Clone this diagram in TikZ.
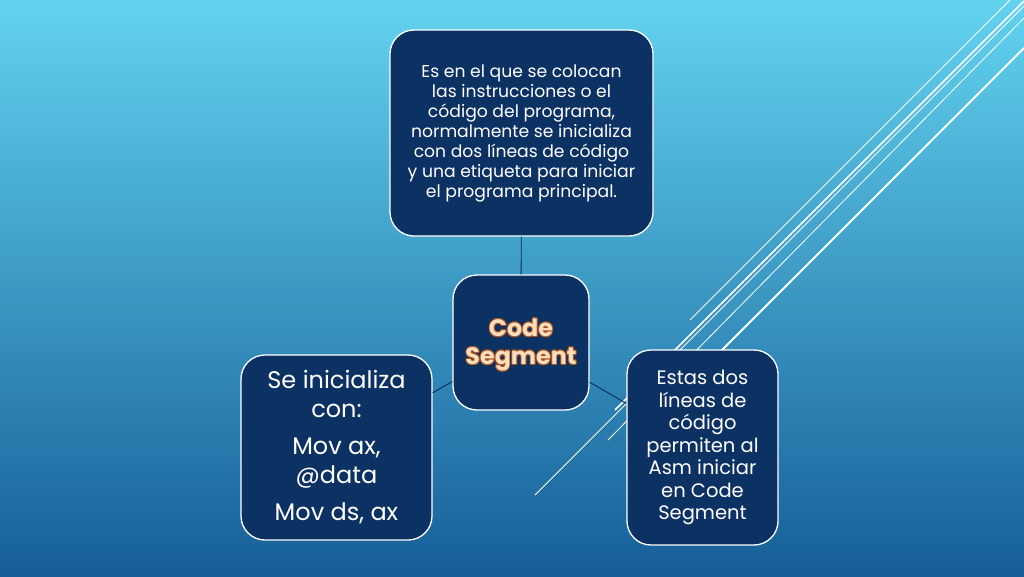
\documentclass[tikz,border=0pt]{standalone}
\usepackage{fontspec}
\setmainfont{Poppins}
\usepackage{xcolor}
\definecolor{skytop}{HTML}{62D3EF}
\definecolor{skymid}{HTML}{3498C8}
\definecolor{skybot}{HTML}{165E98}
\definecolor{boxnavy}{HTML}{0C3163}
\definecolor{linknavy}{HTML}{0B2A55}
\definecolor{peach}{HTML}{FCDDBE}
\definecolor{peachrim}{HTML}{A9541F}
\tikzset{
  segbox/.style={draw=white, line width=1.3pt, fill=boxnavy, rounded corners=24pt,
    text=white, align=center, inner sep=0pt},
  link/.style={draw=linknavy, line width=0.9pt},
  streak/.style={draw=white, line width=#1},
}
\begin{document}
\begin{tikzpicture}[x=1pt,y=-1pt]
      \useasboundingbox (0,0) rectangle (1024,576);
      \shade[top color=skytop, middle color=skymid, bottom color=skybot] (0,0) rectangle (1024,576);

      % diagonal streaks behind the boxes
      \draw[streak=0.8pt] (690,320) -- (1010,0);
      \draw[streak=1.5pt] (615,410) -- (1024,1);
      \draw[streak=0.8pt] (535,495) -- (1024,6);
      \draw[streak=0.8pt] (608,440) -- (1024,18);
      \draw[streak=1.8pt] (700,372) -- (1024,48);

      \node[segbox, minimum width=263pt, minimum height=206pt, font=\fontsize{17.2}{20}\selectfont] (top) at (521.5,133)
        {Es en el que se colocan\\las instrucciones o el\\código del programa,\\normalmente se inicializa\\con dos líneas de código\\y una etiqueta para iniciar\\el programa principal.};
      \node[segbox, minimum width=136pt, minimum height=135pt] (code) at (521,342.5) {};
      \coordinate (codemid) at (521,345);
      \foreach \dx/\dy in {-0.9/0,0.9/0,0/-0.9,0/0.9,-0.65/-0.65,0.65/0.65,-0.65/0.65,0.65/-0.65}
        \node[text=peachrim, align=center, font=\fontsize{23.8}{28}\selectfont\bfseries, xshift=\dx pt, yshift=\dy pt] at (codemid) {Code\\Segment};
      \node[text=peach, align=center, font=\fontsize{23.8}{28}\selectfont\bfseries] (codetext) at (codemid) {Code\\Segment};
      \node[segbox, minimum width=191pt, minimum height=185pt, font=\fontsize{24}{28.5}\selectfont] (init) at (336.5,447.5)
        {Se inicializa\\con:\\[9pt]Mov ax,\\@data\\[9pt]Mov ds, ax};
      \node[segbox, minimum width=151pt, minimum height=195pt, font=\fontsize{19.5}{22.5}\selectfont] (asm) at (702.5,447.5)
        {Estas dos\\líneas de\\código\\permiten al\\Asm iniciar\\en Code\\Segment};

      \draw[link] (code) -- (top);
      \draw[link] (code) -- (init);
      \draw[link] (code) -- (asm);
    \end{tikzpicture}
\end{document}
